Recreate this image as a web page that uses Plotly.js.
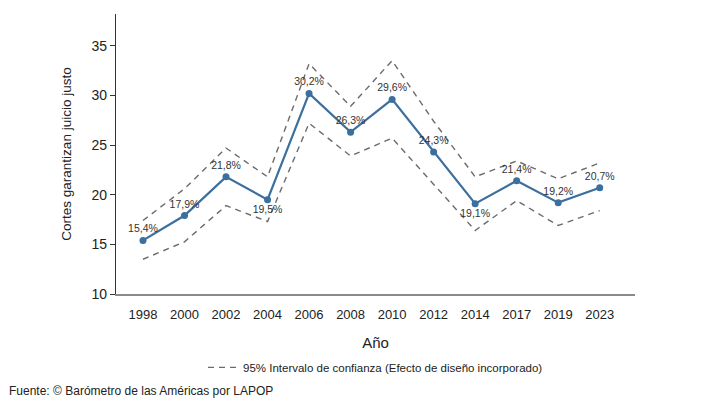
<!DOCTYPE html>
<html>
<head>
<meta charset="utf-8">
<script src="https://cdn.plot.ly/plotly-3.0.1.min.js"></script>
<style>html,body{margin:0;padding:0;background:#fff;}#chart{width:720px;height:399px;}</style>
</head>
<body>
<div id="chart"></div>
<script>
const years = ["1998","2000","2002","2004","2006","2008","2010","2012","2014","2017","2019","2023"];
const values = [15.4, 17.9, 21.8, 19.5, 30.2, 26.3, 29.6, 24.3, 19.1, 21.4, 19.2, 20.7];
const upper = [17.4, 20.6, 24.7, 21.8, 33.2, 28.9, 33.5, 27.4, 21.8, 23.4, 21.6, 23.2];
const lower = [13.5, 15.25, 18.9, 17.3, 27.2, 23.9, 25.7, 21.1, 16.4, 19.4, 16.9, 18.4];
const labels = values.map(v => v.toFixed(1).replace('.', ',') + '%');
const labelPos = ['top center','top center','top center','bottom center','top center','top center',
                  'top center','top center','bottom center','top center','top center','top center'];

const FONT = '"Liberation Sans", Arial, sans-serif';

const traces = [
  {x: years, y: upper, type: 'scatter', mode: 'lines',
   line: {color: '#6b6b6b', width: 1.4, dash: '6px,5px'},
   name: '95% Intervalo de confianza (Efecto de diseño incorporado)', showlegend: true, hoverinfo: 'skip'},
  {x: years, y: lower, type: 'scatter', mode: 'lines',
   line: {color: '#6b6b6b', width: 1.4, dash: '6px,5px'},
   showlegend: false, hoverinfo: 'skip'},
  {x: years, y: values, type: 'scatter', mode: 'lines+markers+text',
   line: {color: '#3b6f9d', width: 2.2},
   marker: {color: '#3b6f9d', size: 7},
   text: labels, textposition: labelPos,
   textfont: {family: FONT, size: 10.5, color: '#333'},
   showlegend: false, cliponaxis: false}
];

const layout = {
  width: 720, height: 399,
  margin: {l: 116, r: 85, t: 14, b: 105},
  paper_bgcolor: '#fff', plot_bgcolor: '#fff',
  font: {family: FONT, color: '#222', size: 13},
  xaxis: {
    type: 'category', range: [-0.65, 11.85],
    showgrid: false, zeroline: false,
    showline: true, linecolor: '#8a8a8a', linewidth: 1.5,
    ticks: '', ticklabelstandoff: 8, tickfont: {size: 13, color: '#222'},
    title: {text: 'Año', font: {size: 15, color: '#222'}, standoff: 16}
  },
  yaxis: {
    range: [10, 38.2], tickvals: [10, 15, 20, 25, 30, 35],
    showgrid: false, zeroline: false,
    showline: true, linecolor: '#333', linewidth: 1.2,
    ticks: 'outside', ticklen: 5, tickcolor: '#333',
    tickfont: {size: 14, color: '#222'},
    title: {text: 'Cortes garantizan juicio justo', font: {size: 13.5, color: '#222'}, standoff: 16}
  },
  legend: {orientation: 'h', x: 0.5, xanchor: 'center', y: -0.262, yanchor: 'middle',
           font: {size: 11.5, color: '#222'}, itemwidth: 30},
  annotations: [
    {xref: 'paper', yref: 'paper', x: -0.21, xanchor: 'left', y: -0.345, yanchor: 'middle',
     text: 'Fuente: © Barómetro de las Américas por LAPOP', showarrow: false,
     font: {size: 12, color: '#222'}}
  ],
  showlegend: true
};

Plotly.newPlot('chart', traces, layout, {displayModeBar: false, staticPlot: true});
</script>
</body>
</html>
